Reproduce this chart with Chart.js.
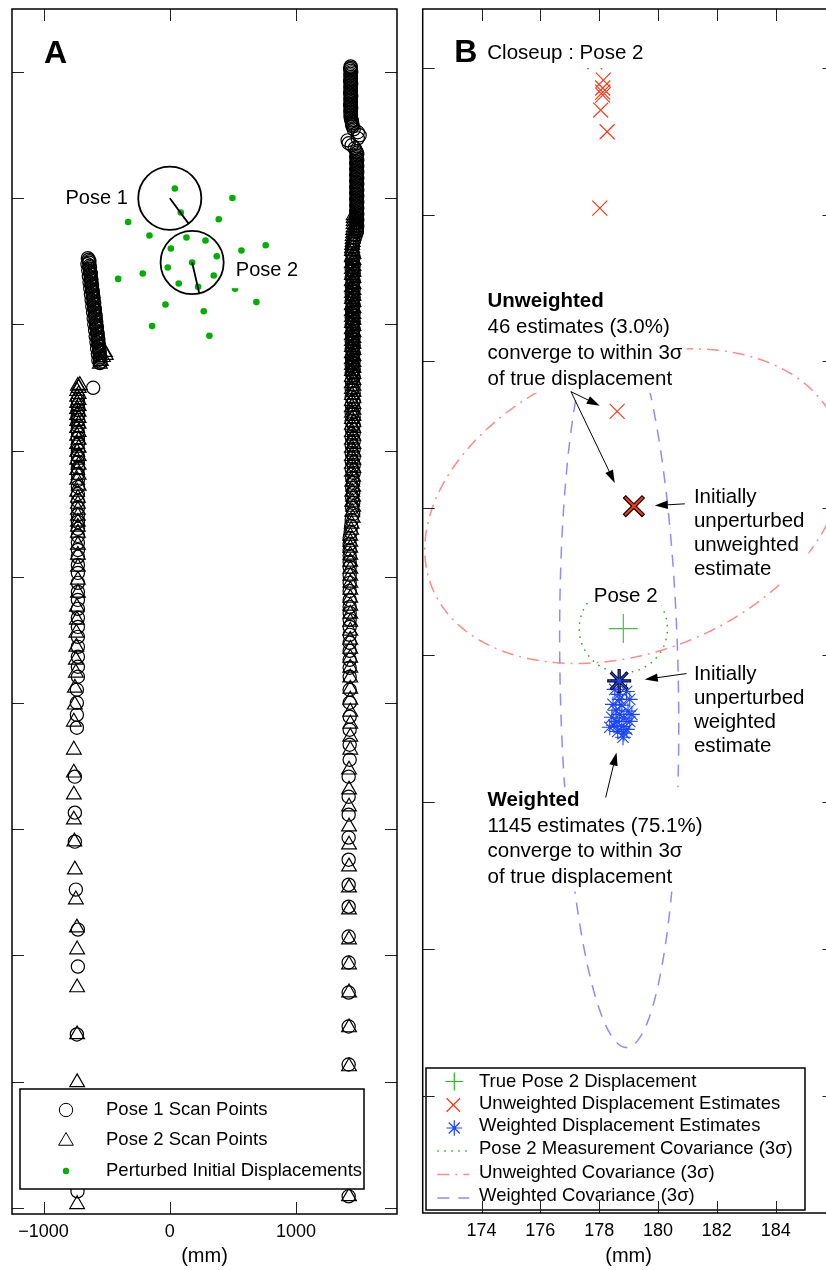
<!DOCTYPE html>
<html><head><meta charset="utf-8">
<script src="https://cdn.jsdelivr.net/npm/chart.js@4.4.1/dist/chart.umd.min.js"></script>
<style>
html,body{margin:0;padding:0;background:#fff;overflow:hidden;width:826px;height:1270px;}
#ca{position:absolute;left:0;top:0;}
#cb{position:absolute;left:410px;top:0;}
</style></head><body>
<canvas id="ca" width="410" height="1270"></canvas>
<canvas id="cb" width="430" height="1270"></canvas>
<script>
const FONT = "'Liberation Sans', Arial, Helvetica, sans-serif";

// ---------------- Panel A data (mm) ----------------
const xTicksA = [-1000, 0, 1000];
const yTicksA = [1000, 0, -1000, -2000, -3000, -4000, -5000, -6000, -7000, -8000];

const pose1ScanUpperLeft = [[-649,-475],[-637,-499],[-652,-523],[-632,-546],[-646,-570],[-626,-594],[-641,-618],[-621,-641],[-636,-665],[-616,-689],[-630,-713],[-610,-736],[-625,-760],[-604,-784],[-619,-808],[-599,-832],[-614,-855],[-593,-879],[-608,-903],[-588,-927],[-603,-950],[-583,-974],[-598,-998],[-577,-1021],[-592,-1045],[-572,-1069],[-587,-1093],[-566,-1116],[-581,-1140],[-561,-1164],[-576,-1188],[-556,-1211],[-570,-1235],[-552,-1259],[-566,-1283],[-554,-1306],[-607,-1502]];
const pose1ScanUpperLeftDense = [[-642,-487],[-639,-511],[-636,-535],[-634,-558],[-631,-582],[-628,-606],[-625,-630],[-623,-653],[-620,-677],[-617,-701],[-614,-725],[-612,-748],[-609,-772],[-606,-796],[-603,-820],[-601,-844],[-598,-867],[-595,-891],[-593,-915],[-590,-939],[-587,-962],[-584,-986],[-582,-1010],[-579,-1033],[-576,-1057],[-573,-1081],[-571,-1105],[-568,-1128],[-565,-1152],[-562,-1176],[-560,-1200],[-557,-1223],[-554,-1247],[-552,-1271],[-549,-1295]];
const pose1ScanLeftLower = [[-728,-1599],[-728,-1639],[-728,-1678],[-728,-1718],[-728,-1758],[-728,-1805],[-728,-1853],[-728,-1900],[-728,-1948],[-728,-1995],[-728,-2043],[-728,-2090],[-728,-2138],[-728,-2185],[-728,-2233],[-728,-2288],[-728,-2344],[-728,-2399],[-728,-2454],[-728,-2510],[-728,-2565],[-728,-2620],[-728,-2676],[-728,-2731],[-728,-2787],[-728,-2842],[-728,-2906],[-728,-2969],[-728,-3048],[-728,-3120],[-728,-3183],[-728,-3254],[-728,-3325],[-728,-3397],[-728,-3476],[-728,-3555],[-728,-3634],[-728,-3713],[-728,-3792],[-736,-3895],[-736,-3998],[-736,-4094],[-736,-4196],[-752,-4584],[-752,-4869],[-752,-5099],[-744,-5479],[-728,-5796],[-728,-6089],[-736,-6627],[-731,-7870]];
const pose1ScanRight = [[1433,1045],[1429,1022],[1437,998],[1431,974],[1435,950],[1429,927],[1437,903],[1431,879],[1435,855],[1429,832],[1437,808],[1431,784],[1435,760],[1429,737],[1437,713],[1431,689],[1435,665],[1433,641],[1441,618],[1445,594],[1449,570],
[1457,546],[1489,523],[1504,499],[1489,475],[1409,459],[1417,436],[1441,420],[1465,396],
[1477,372],[1485,348],[1477,325],[1485,301],[1477,277],[1485,253],[1477,230],[1485,206],[1477,182],[1485,158],[1477,135],[1485,111],[1477,87],[1485,63],[1477,40],[1485,16],[1477,-8],[1485,-32],[1477,-55],[1485,-79],[1477,-103],[1485,-127],[1477,-150],[1485,-174],[1477,-198],[1485,-222],[1477,-245],[1481,-269],
[1473,-293],[1465,-317],[1457,-340],[1449,-364],[1449,-388],[1445,-412],
[1441,-435],[1457,-467],[1441,-499],[1457,-531],[1441,-562],[1457,-594],[1441,-625],[1457,-657],[1441,-689],[1457,-720],[1441,-752],[1457,-784],[1441,-815],[1457,-847],[1441,-879],[1457,-910],[1441,-942],[1457,-974],[1441,-1005],[1457,-1037],[1441,-1069],[1457,-1100],[1441,-1132],[1457,-1164],[1441,-1195],[1457,-1227],[1441,-1259],[1457,-1290],[1441,-1322],[1457,-1354],[1441,-1385],[1457,-1417],[1441,-1449],[1457,-1480],[1441,-1512],[1457,-1544],[1441,-1575],[1457,-1607],[1441,-1639],[1457,-1670],[1441,-1702],[1457,-1734],[1441,-1765],[1457,-1797],[1441,-1829],[1457,-1860],[1441,-1892],[1457,-1924],[1441,-1955],[1457,-1987],[1441,-2019],[1457,-2050],[1441,-2082],[1457,-2114],[1441,-2145],[1457,-2177],[1445,-2217],[1453,-2256],[1445,-2296],[1453,-2335],[1445,-2375],[1453,-2415],[1445,-2454],[1453,-2502],[1441,-2549],[1437,-2597],[1433,-2644],
[1425,-2692],[1425,-2739],[1425,-2787],[1425,-2834],[1425,-2882],[1425,-2922],[1425,-2985],[1425,-3048],[1425,-3112],[1425,-3183],[1425,-3238],[1425,-3286],[1425,-3341],[1425,-3397],[1425,-3460],[1425,-3523],[1425,-3587],[1425,-3658],[1425,-3721],[1425,-3792],[1425,-3895],[1425,-3998],[1425,-4109],[1425,-4212],[1425,-4331],[1425,-4450],[1417,-4584],[1417,-4743],[1417,-4885],[1417,-5067],[1417,-5242],[1417,-5440],[1417,-5614],[1417,-5851],[1417,-6057],[1417,-6295],[1417,-6564],[1417,-6865],[1417,-7910]];
const pose1ScanRightDense = [[1433,1033],[1433,1010],[1433,986],[1433,962],[1433,938],[1433,915],[1433,891],[1433,867],[1433,843],[1433,820],[1433,796],[1433,772],[1433,748],[1433,725],[1433,701],[1433,677],[1433,653],[1437,630],[1441,606],[1445,582],
[1481,360],[1481,337],[1481,313],[1481,289],[1481,265],[1481,242],[1481,218],[1481,194],[1481,170],[1481,147],[1481,123],[1481,99],[1481,75],[1481,52],[1481,28],[1481,4],[1481,-20],[1481,-44],[1481,-67],[1481,-91],[1481,-115],[1481,-139],[1481,-162],[1481,-186],[1481,-210],[1481,-234],[1481,-257],
[1449,-451],[1449,-483],[1449,-515],[1449,-547],[1449,-578],[1449,-610],[1449,-641],[1449,-673],[1449,-705],[1449,-736],[1449,-768],[1449,-800],[1449,-831],[1449,-863],[1449,-895],[1449,-926],[1449,-958],[1449,-990],[1449,-1021],[1449,-1053],[1449,-1085],[1449,-1116],[1449,-1148],[1449,-1180],[1449,-1211],[1449,-1243],[1449,-1275],[1449,-1306],[1449,-1338],[1449,-1370],[1449,-1401]];

const pose2ScanLeft = [[-515,-1220],[-507,-1243],[-530,-1260],[-546,-1290],[-554,-1312],[-713,-1481],
[-728,-1488],[-722,-1504],[-734,-1528],[-722,-1552],[-734,-1575],[-722,-1599],[-734,-1623],[-722,-1647],[-734,-1671],[-722,-1694],[-734,-1718],[-722,-1742],[-734,-1766],[-722,-1789],[-734,-1821],[-722,-1853],[-734,-1884],[-722,-1916],[-734,-1948],[-722,-1979],[-734,-2011],[-722,-2043],[-734,-2074],[-722,-2114],[-734,-2154],[-722,-2193],[-734,-2233],[-722,-2280],[-734,-2328],[-728,-2375],[-728,-2423],[-728,-2470],[-728,-2518],[-728,-2565],[-728,-2605],[-728,-2652],[-728,-2747],[-728,-2827],[-728,-2922],[-728,-3024],[-728,-3127],
[-736,-3238],[-736,-3341],[-740,-3444],[-740,-3555],[-744,-3658],[-744,-3761],[-752,-3880],[-752,-4014],[-760,-4149],[-760,-4371],[-760,-4553],[-760,-4727],[-760,-4925],[-756,-5099],[-752,-5321],[-744,-5558],
[-736,-5780],[-734,-5954],[-734,-6255],[-734,-6627],[-734,-7007],[-734,-7973]];
const pose2ScanRight = [[1457,-135],[1457,-158],[1457,-182],[1457,-206],[1457,-230],[1453,-253],[1453,-277],[1449,-301],[1449,-325],[1449,-348],[1445,-372],[1445,-396],
[1443,-420],[1455,-443],[1443,-467],[1455,-491],[1443,-515],[1455,-538],[1443,-562],[1455,-586],[1443,-610],[1455,-633],[1443,-657],[1455,-681],[1443,-705],[1455,-728],[1443,-752],[1455,-776],[1443,-800],[1455,-823],[1443,-847],[1455,-871],[1443,-895],[1455,-918],[1443,-942],[1455,-966],[1443,-990],[1455,-1013],[1443,-1037],[1455,-1061],[1443,-1085],[1455,-1108],[1443,-1132],[1455,-1156],[1443,-1180],[1455,-1203],[1443,-1227],[1455,-1251],[1443,-1275],[1455,-1298],[1443,-1322],[1455,-1346],[1443,-1370],[1455,-1393],[1443,-1417],[1455,-1441],[1443,-1465],[1455,-1488],[1443,-1512],[1455,-1536],[1443,-1560],[1455,-1583],[1443,-1607],[1455,-1631],[1443,-1655],[1455,-1678],[1443,-1702],[1455,-1726],[1443,-1750],[1455,-1773],[1443,-1797],[1455,-1821],[1443,-1853],[1455,-1884],[1443,-1916],[1455,-1948],[1443,-1979],[1455,-2011],[1443,-2043],[1455,-2074],[1443,-2106],[1455,-2138],[1443,-2169],[1453,-2209],[1445,-2248],[1453,-2288],[1445,-2328],[1453,-2367],[1445,-2407],[1453,-2447],[1445,-2486],[1449,-2534],[1441,-2581],[1437,-2629],
[1430,-2676],[1430,-2724],[1430,-2771],[1430,-2827],[1430,-2882],[1430,-2937],[1430,-2993],[1430,-3048],[1430,-3104],[1430,-3167],[1430,-3230],[1430,-3294],[1430,-3357],[1430,-3428],[1430,-3500],[1430,-3571],[1430,-3642],[1430,-3721],[1430,-3800],[1430,-3888],[1430,-3975],[1430,-4070],[1430,-4165],[1430,-4268],[1430,-4371],[1420,-4529],[1420,-4687],[1420,-4822],[1420,-4980],[1420,-5123],[1420,-5297],[1420,-5463],[1420,-5638],[1420,-5875],[1420,-6073],[1420,-6295],[1420,-6572],[1420,-6881],[1420,-7910]];

const perturbedStarts = [[40,77],[87,-113],[496,2],[-330,-188],[388,-166],[-161,-295],[132,-311],[283,-335],[8,-398],[568,-414],[760,-372],[372,-459],[177,-509],[-16,-549],[-214,-596],[-409,-639],[348,-612],[71,-675],[224,-702],[517,-718],[-34,-842],[686,-823],[269,-895],[-140,-1013],[314,-1090]];

const poseNames = ['Pose 1', 'Pose 2'];
const poseX = [0, 177];
const poseY = [0, -509];
const poseHeadingDeg = [-53.4, -77];
const robotRadiusMm = 250;
const legendLabelsA = ['Pose 1 Scan Points', 'Pose 2 Scan Points', 'Perturbed Initial Displacements'];

// ---------------- Panel B data (mm) ----------------
const xTicksB = [174, 176, 178, 180, 182, 184];
const yTicksB = [-490, -495, -500, -505, -510, -515, -520, -525];
const truePose2 = [[178.82, -509.1]];
const unweightedEstimates = [[177.85,-489.80],[178.25,-489.75],[178.14,-490.42],[178.12,-490.69],[178.12,-490.83],[178.12,-490.93],[178.05,-491.44],[178.27,-492.18],[178.02,-494.78],[178.61,-501.70]];
const unweightedInitial = [[179.18, -504.93]];
const weightedEstimates = [[178.93,-511.24],[178.67,-511.34],[179.04,-511.51],[178.47,-511.68],[178.77,-511.71],[178.57,-511.88],[178.98,-511.91],[178.70,-512.02],[178.43,-512.12],[178.84,-512.15],[178.60,-512.26],[179.04,-512.26],[178.50,-512.39],[178.77,-512.43],[178.94,-512.53],[178.63,-512.60],[178.84,-512.66],[178.81,-512.80],[178.36,-512.46],[179.11,-512.02],[178.70,-511.51],[178.53,-511.17]];
const weightedInitial = [[178.68, -510.88]];
// covariance ellipses (3 sigma): centre and covariance terms, mm / mm^2
const covNames = ['Pose 2 Measurement Covariance (3σ)', 'Unweighted Covariance (3σ)', 'Weighted Covariance (3σ)'];
const covCx = [178.82, 179.18, 178.68];
const covCy = [-509.1, -504.93, -510.88];
const covSxx = [2.25, 50.54, 4.10];
const covSxy = [0, 10.5, -3.06];
const covSyy = [2.25, 28.70, 155.8];
const legendLabelsB = ['True Pose 2 Displacement', 'Unweighted Displacement Estimates', 'Weighted Displacement Estimates', covNames[0], covNames[1], covNames[2]];

// ---------------- helpers ----------------
const toXY = arr => arr.map(p => ({x: p[0], y: p[1]}));
const fmtTick = v => v < 0 ? '\u2212' + Math.abs(v) : String(v);

function drawMark(ctx, style, cx, cy, r, stroke, lw, fill) {
  ctx.save();
  ctx.strokeStyle = stroke; ctx.lineWidth = lw;
  ctx.beginPath();
  if (style === 'circle') {
    ctx.arc(cx, cy, r, 0, Math.PI * 2);
    if (fill) { ctx.fillStyle = fill; ctx.fill(); }
    if (lw) ctx.stroke();
  } else if (style === 'triangle') {
    ctx.moveTo(cx, cy - r);
    ctx.lineTo(cx + r * Math.sin(2 * Math.PI / 3), cy - r * Math.cos(2 * Math.PI / 3));
    ctx.lineTo(cx + r * Math.sin(4 * Math.PI / 3), cy - r * Math.cos(4 * Math.PI / 3));
    ctx.closePath(); ctx.stroke();
  } else {
    const angs = style === 'cross' ? [0, 90] : style === 'crossRot' ? [45, 135] : [0, 45, 90, 135];
    angs.forEach(d => { const t = d * Math.PI / 180;
      ctx.moveTo(cx - r * Math.cos(t), cy - r * Math.sin(t));
      ctx.lineTo(cx + r * Math.cos(t), cy + r * Math.sin(t)); });
    ctx.stroke();
  }
  ctx.restore();
}

function drawBlock(ctx, px, py, lines, lh, align, size, padBottom) {
  ctx.save();
  ctx.textBaseline = 'middle';
  ctx.textAlign = align;
  let w = 0;
  lines.forEach(l => { ctx.font = (l.b ? 'bold ' : '') + size + 'px ' + FONT; w = Math.max(w, ctx.measureText(l.t).width); });
  const left = align === 'left' ? px : align === 'right' ? px - w : px - w / 2;
  ctx.fillStyle = '#fff';
  ctx.fillRect(left - 4, py - 13, w + 8, lh * (lines.length - 1) + 13 + (padBottom || 14));
  ctx.fillStyle = '#000';
  lines.forEach((l, i) => { ctx.font = (l.b ? 'bold ' : '') + size + 'px ' + FONT; ctx.fillText(l.t, px, py + i * lh); });
  ctx.restore();
}

function drawArrow(ctx, x1, y1, x2, y2) {
  const a = Math.atan2(y2 - y1, x2 - x1), L = 13, W = 4.2;
  const c = Math.cos(a), s = Math.sin(a);
  ctx.save();
  ctx.strokeStyle = '#000'; ctx.fillStyle = '#000'; ctx.lineWidth = 1;
  ctx.beginPath(); ctx.moveTo(x1, y1); ctx.lineTo(x2 - L * 0.7 * c, y2 - L * 0.7 * s); ctx.stroke();
  ctx.beginPath();
  ctx.moveTo(x2, y2);
  ctx.lineTo(x2 - L * c + W * s, y2 - L * s - W * c);
  ctx.lineTo(x2 - L * c - W * s, y2 - L * s + W * c);
  ctx.closePath(); ctx.fill();
  ctx.restore();
}

function drawFrame(chart, xt, yt) {
  const {ctx, chartArea: a, scales: {x, y}} = chart;
  const len = 12;
  ctx.save();
  ctx.strokeStyle = '#222'; ctx.lineWidth = 1;
  ctx.beginPath();
  xt.forEach(v => { const p = Math.round(x.getPixelForValue(v)) + 0.5;
    ctx.moveTo(p, a.bottom); ctx.lineTo(p, a.bottom - len); ctx.moveTo(p, a.top); ctx.lineTo(p, a.top + len); });
  yt.forEach(v => { const p = Math.round(y.getPixelForValue(v)) + 0.5;
    ctx.moveTo(a.left, p); ctx.lineTo(a.left + len, p); ctx.moveTo(a.right, p); ctx.lineTo(a.right - len, p); });
  ctx.stroke();
  ctx.strokeStyle = '#000'; ctx.lineWidth = 1.5;
  ctx.strokeRect(a.left, a.top, a.right - a.left, a.bottom - a.top);
  ctx.restore();
}

function clipArea(chart) {
  const {ctx, chartArea: a} = chart;
  ctx.beginPath(); ctx.rect(a.left, a.top, a.right - a.left, a.bottom - a.top); ctx.clip();
}

function xAxisOpts(min, max, ticksArr, h) {
  return {
    type: 'linear', position: 'bottom', min: min, max: max,
    grid: {display: false, drawTicks: false}, border: {display: false},
    ticks: {font: {family: FONT, size: 18}, color: '#000', padding: 7, maxRotation: 0, autoSkip: false, includeBounds: false, callback: fmtTick},
    afterBuildTicks: s => { s.ticks = ticksArr.map(v => ({value: v})); },
    afterFit: s => { s.height = h; },
    title: {display: true, text: '(mm)', font: {family: FONT, size: 20}, color: '#000', padding: {top: 0, bottom: 1.3}}
  };
}

function scatterSet(label, data, style, r, color, lw, fill, order) {
  return {label, data: toXY(data), showLine: false, pointStyle: style, pointRadius: r, pointHoverRadius: r,
    pointBorderColor: color, borderColor: color, pointBorderWidth: lw, borderWidth: lw,
    pointBackgroundColor: fill || 'rgba(0,0,0,0)', backgroundColor: fill || 'rgba(0,0,0,0)', order};
}

// ---------------- Panel A ----------------
const plugA = {
  id: 'panelA',
  afterDatasetsDraw(chart) {
    const {ctx, scales: {x, y}} = chart;
    ctx.save();
    clipArea(chart);
    const rp = x.getPixelForValue(robotRadiusMm) - x.getPixelForValue(0);
    ctx.strokeStyle = '#000'; ctx.lineWidth = 1.8;
    poseX.forEach((_, i) => {
      const cx = x.getPixelForValue(poseX[i]), cy = y.getPixelForValue(poseY[i]);
      ctx.beginPath(); ctx.arc(cx, cy, rp, 0, Math.PI * 2); ctx.stroke();
      const th = poseHeadingDeg[i] * Math.PI / 180;
      ctx.beginPath(); ctx.moveTo(cx, cy);
      ctx.lineTo(x.getPixelForValue(poseX[i] + robotRadiusMm * Math.cos(th)), y.getPixelForValue(poseY[i] + robotRadiusMm * Math.sin(th)));
      ctx.stroke();
    });
    drawBlock(ctx, x.getPixelForValue(-333), y.getPixelForValue(0), [{t: poseNames[0]}], 0, 'right', 20);
    drawBlock(ctx, x.getPixelForValue(523), y.getPixelForValue(-570), [{t: poseNames[1]}], 0, 'left', 20, 18);
    ctx.restore();
  },
  afterDraw(chart) {
    const {ctx, chartArea: a} = chart;
    const L = a.left + 8, T = a.bottom - 125, W = 344, H = 100;
    ctx.save();
    ctx.fillStyle = '#fff'; ctx.fillRect(L, T, W, H);
    ctx.strokeStyle = '#000'; ctx.lineWidth = 1.5; ctx.strokeRect(L, T, W, H);
    const rows = [21, 51, 82];
    drawMark(ctx, 'circle', L + 46, T + rows[0], 6.7, '#000', 1);
    drawMark(ctx, 'triangle', L + 46, T + rows[1] + 1, 8.5, '#000', 1);
    drawMark(ctx, 'circle', L + 46, T + rows[2], 3.2, '#00b000', 0, '#00b000');
    ctx.fillStyle = '#000'; ctx.font = '18.5px ' + FONT; ctx.textBaseline = 'middle'; ctx.textAlign = 'left';
    legendLabelsA.forEach((t, i) => ctx.fillText(t, L + 86, T + rows[i]));
    ctx.font = 'bold 32px ' + FONT;
    ctx.fillText('A', a.left + 32, a.top + 45);
    ctx.restore();
    drawFrame(chart, xTicksA, yTicksA);
  }
};

new Chart(document.getElementById('ca'), {
  type: 'scatter',
  data: {datasets: [
    scatterSet(legendLabelsA[0], pose1ScanUpperLeft.concat(pose1ScanUpperLeftDense, pose1ScanLeftLower, pose1ScanRight, pose1ScanRightDense), 'circle', 6.6, '#000', 1.2, null, 3),
    scatterSet(legendLabelsA[1], pose2ScanLeft.concat(pose2ScanRight), 'triangle', 8.5, '#000', 1.2, null, 2),
    scatterSet(legendLabelsA[2], perturbedStarts, 'circle', 3.3, '#00b000', 0, '#00b000', 1)
  ]},
  options: {
    responsive: false, animation: false, events: [],
    layout: {autoPadding: false, padding: {left: 12, top: 9, right: 13, bottom: 0}},
    plugins: {legend: {display: false}, tooltip: {enabled: false}},
    scales: {
      x: xAxisOpts(-1250, 1800, xTicksA, 56),
      y: {type: 'linear', min: -8050, max: 1500, display: false}
    }
  },
  plugins: [plugA]
});

// ---------------- Panel B ----------------
const covStyles = [
  {color: '#22aa22', dash: [1.5, 5.5], lw: 1.5},
  {color: '#ff8a8a', dash: [12, 6, 2, 6], lw: 1.5},
  {color: '#8c8cff', dash: [12, 9], lw: 1.5}
];
const annB = [
  {x: 174.204, y: -497.96, lh: 25.8, align: 'left', lines: [{t: 'Unweighted', b: 1}, {t: '46 estimates (3.0%)'}, {t: 'converge to within 3σ'}, {t: 'of true displacement'}]},
  {x: 181.221, y: -504.626, lh: 24, align: 'left', lines: [{t: 'Initially'}, {t: 'unperturbed'}, {t: 'unweighted'}, {t: 'estimate'}]},
  {x: 178.90, y: -508.01, lh: 0, align: 'center', lines: [{t: 'Pose 2'}]},
  {x: 181.221, y: -510.656, lh: 24, align: 'left', lines: [{t: 'Initially'}, {t: 'unperturbed'}, {t: 'weighted'}, {t: 'estimate'}]},
  {x: 174.204, y: -514.942, lh: 25.8, align: 'left', lines: [{t: 'Weighted', b: 1}, {t: '1145 estimates (75.1%)'}, {t: 'converge to within 3σ'}, {t: 'of true displacement'}]}
];
const arrowsB = [
  [177.04, -501.03, 178.02, -501.51],
  [177.04, -501.03, 178.53, -504.14],
  [180.91, -504.85, 179.89, -504.91],
  [180.97, -510.63, 179.55, -510.83],
  [178.22, -514.85, 178.59, -513.32]
];

const plugB = {
  id: 'panelB',
  beforeDatasetsDraw(chart) {
    const {ctx, scales: {x, y}} = chart;
    ctx.save();
    clipArea(chart);
    covCx.forEach((_, i) => {
      const L11 = Math.sqrt(covSxx[i]), L21 = covSxy[i] / L11, L22 = Math.sqrt(covSyy[i] - L21 * L21);
      const st = covStyles[i];
      ctx.strokeStyle = st.color; ctx.lineWidth = st.lw; ctx.setLineDash(st.dash);
      ctx.beginPath();
      for (let k = 0; k <= 720; k++) {
        const t = Math.PI / 2 + k * Math.PI / 360;
        const px = x.getPixelForValue(covCx[i] + L11 * Math.cos(t));
        const py = y.getPixelForValue(covCy[i] + L21 * Math.cos(t) + L22 * Math.sin(t));
        if (k === 0) ctx.moveTo(px, py); else ctx.lineTo(px, py);
      }
      ctx.stroke();
    });
    ctx.restore();
  },
  afterDatasetsDraw(chart) {
    const {ctx, scales: {x, y}} = chart;
    ctx.save();
    clipArea(chart);
    annB.forEach(b => drawBlock(ctx, x.getPixelForValue(b.x), y.getPixelForValue(b.y), b.lines, b.lh, b.align, 20.5));
    arrowsB.forEach(a => drawArrow(ctx, x.getPixelForValue(a[0]), y.getPixelForValue(a[1]), x.getPixelForValue(a[2]), y.getPixelForValue(a[3])));
    ctx.restore();
  },
  afterDraw(chart) {
    const {ctx, chartArea: a} = chart;
    ctx.save();
    drawBlock(ctx, a.left + 64.6, a.top + 44, [{t: 'Closeup : Pose 2'}], 0, 'left', 20.5, 15);
    ctx.fillStyle = '#000'; ctx.textBaseline = 'middle'; ctx.textAlign = 'left';
    ctx.font = 'bold 32px ' + FONT;
    ctx.fillText('B', a.left + 31.6, a.top + 44);
    const L = a.left + 3.3, T = 1068, W = 379, H = 142;
    ctx.fillStyle = '#fff'; ctx.fillRect(L, T, W, H);
    ctx.strokeStyle = '#000'; ctx.lineWidth = 1.5; ctx.strokeRect(L, T, W, H);
    const rows = [13.5, 36, 58, 81, 104.5, 128];
    const mx = L + 28.3;
    drawMark(ctx, 'cross', mx, T + rows[0], 9, '#22bb22', 1.2);
    drawMark(ctx, 'crossRot', mx - 1, T + rows[1] + 1, 9.5, '#ff3311', 1.2);
    drawMark(ctx, 'star', mx, T + rows[2] + 2, 7.8, '#1a44ff', 1.2);
    [3, 4, 5].forEach((ri, j) => {
      const st = covStyles[j];
      ctx.save(); ctx.strokeStyle = st.color; ctx.lineWidth = st.lw; ctx.setLineDash(st.dash);
      ctx.beginPath(); ctx.moveTo(mx - 17, T + rows[ri] + 2); ctx.lineTo(mx + 15, T + rows[ri] + 2); ctx.stroke(); ctx.restore();
    });
    ctx.fillStyle = '#000'; ctx.font = '18.5px ' + FONT; ctx.textBaseline = 'middle'; ctx.textAlign = 'left';
    legendLabelsB.forEach((t, i) => ctx.fillText(t, L + 53, T + rows[i]));
    ctx.restore();
    drawFrame(chart, xTicksB, yTicksB);
  }
};

new Chart(document.getElementById('cb'), {
  type: 'scatter',
  data: {datasets: [
    scatterSet(legendLabelsB[1], unweightedEstimates, 'crossRot', 10.6, '#ff3311', 1.1, null, 6),
    scatterSet(legendLabelsB[2], weightedEstimates, 'star', 8, '#1a44ff', 1.1, null, 5),
    scatterSet('Initially unperturbed unweighted estimate (outline)', unweightedInitial, 'crossRot', 13.7, '#000', 4.5, null, 4),
    scatterSet('Initially unperturbed unweighted estimate', unweightedInitial, 'crossRot', 12.6, '#ff3311', 2.2, null, 3),
    scatterSet('Initially unperturbed weighted estimate (outline)', weightedInitial, 'star', 12, '#000', 3.2, null, 2),
    scatterSet('Initially unperturbed weighted estimate', weightedInitial, 'star', 11, '#1a44ff', 1.4, null, 1),
    scatterSet(legendLabelsB[0], truePose2, 'cross', 14.5, '#44c044', 1.2, null, 0)
  ]},
  options: {
    responsive: false, animation: false, events: [],
    layout: {autoPadding: false, padding: {left: 12.7, top: 9, right: 5.5, bottom: 0}},
    plugins: {legend: {display: false}, tooltip: {enabled: false}},
    scales: {
      x: xAxisOpts(172, 186, xTicksB, 57),
      y: {type: 'linear', min: -529, max: -488, display: false}
    }
  },
  plugins: [plugB]
});
</script></body></html>
